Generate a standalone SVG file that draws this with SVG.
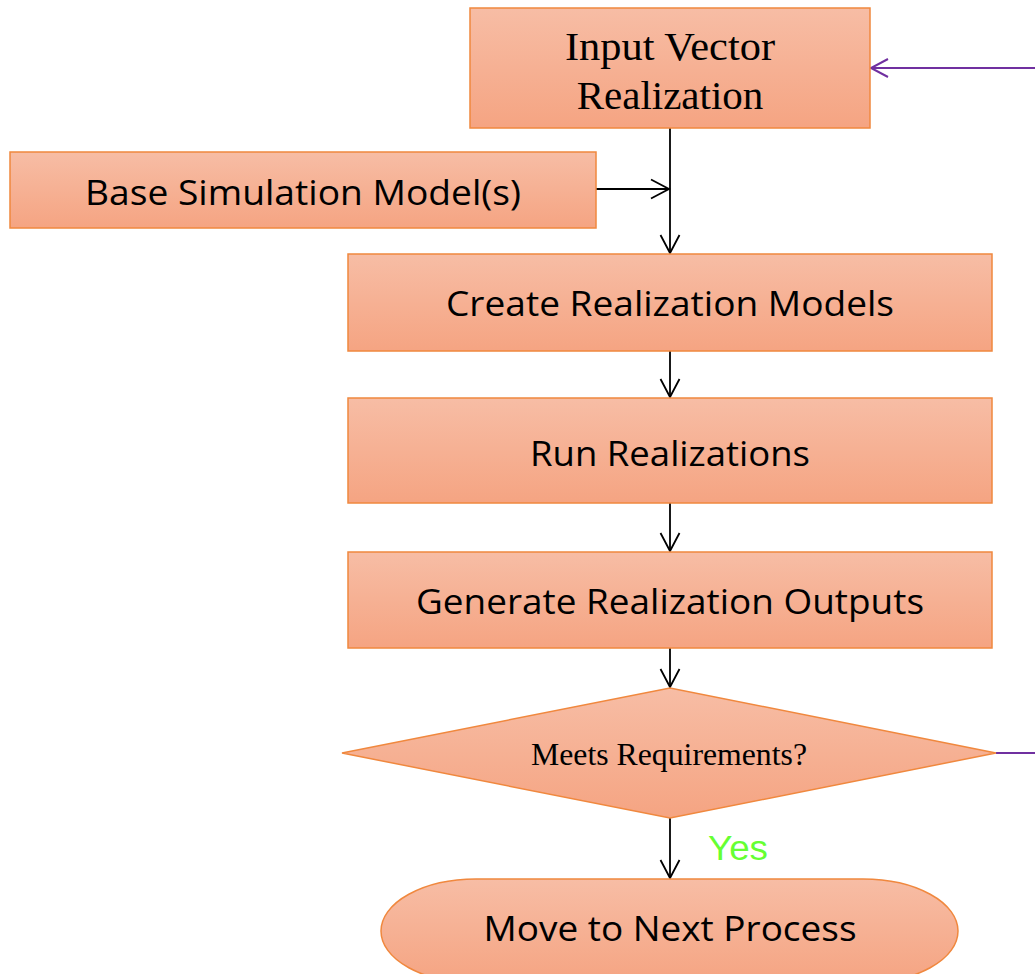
<svg xmlns="http://www.w3.org/2000/svg" width="1035" height="974" viewBox="0 0 1035 974">
  <defs>
    <linearGradient id="fillGrad" x1="0" y1="0" x2="0" y2="1">
      <stop offset="0" stop-color="#f7bda5"/>
      <stop offset="1" stop-color="#f5a482"/>
    </linearGradient>
    <marker id="arrowBlack" markerUnits="userSpaceOnUse" markerWidth="24" markerHeight="24" viewBox="-20 -12 24 24" refX="0" refY="0" orient="auto">
      <path d="M-18,-9.5 L0,0 L-18,9.5" fill="none" stroke="#000" stroke-width="1.8"/>
    </marker>
    <marker id="arrowPurple" markerUnits="userSpaceOnUse" markerWidth="24" markerHeight="24" viewBox="-20 -12 24 24" refX="0" refY="0" orient="auto">
      <path d="M-17,-9 L0,0 L-17,9" fill="none" stroke="#7030a0" stroke-width="2"/>
    </marker>
  </defs>
  <style>
    .box { fill: url(#fillGrad); stroke: #f0883e; stroke-width: 1.5; }
    .sans { font-family: "Open Sans", "Noto Sans", "Liberation Sans", sans-serif; font-size: 35px; fill: #000; text-anchor: middle; }
    .serif { font-family: "Liberation Serif", "Times New Roman", serif; fill: #000; text-anchor: middle; }
    .link { stroke: #000; stroke-width: 1.8; fill: none; }
    .loop { stroke: #7030a0; stroke-width: 2; fill: none; }
  </style>
  <rect width="1035" height="974" fill="#fff"/>

  <g id="connectors">
    <line class="link" x1="670" y1="128" x2="670" y2="253" marker-end="url(#arrowBlack)"/>
    <line class="link" x1="596" y1="189" x2="669" y2="189" marker-end="url(#arrowBlack)"/>
    <line class="link" x1="670" y1="351" x2="670" y2="397" marker-end="url(#arrowBlack)"/>
    <line class="link" x1="670" y1="503" x2="670" y2="551" marker-end="url(#arrowBlack)"/>
    <line class="link" x1="670" y1="648" x2="670" y2="687" marker-end="url(#arrowBlack)"/>
    <line class="link" x1="670" y1="818" x2="670" y2="878" marker-end="url(#arrowBlack)"/>
    <line class="loop" x1="996" y1="753" x2="1035" y2="753"/>
    <line class="loop" x1="1035" y1="68" x2="871" y2="68" marker-end="url(#arrowPurple)"/>
    <text x="738" y="860" font-family="'Liberation Sans', Arial, sans-serif" font-size="35" fill="#66ff33" text-anchor="middle" textLength="60" lengthAdjust="spacingAndGlyphs">Yes</text>
  </g>

  <g id="input-vector">
    <rect class="box" x="470" y="8" width="400" height="120"/>
    <text class="serif" x="670" y="60" font-size="41" textLength="210" lengthAdjust="spacingAndGlyphs">Input Vector</text>
    <text class="serif" x="670" y="109" font-size="41">Realization</text>
  </g>

  <g id="base-models">
    <rect class="box" x="10" y="152" width="586" height="76"/>
    <text class="sans" x="303" y="205" textLength="436" lengthAdjust="spacingAndGlyphs">Base Simulation Model(s)</text>
  </g>

  <g id="create-models">
    <rect class="box" x="348" y="254" width="644" height="97"/>
    <text class="sans" x="670" y="316" textLength="448" lengthAdjust="spacingAndGlyphs">Create Realization Models</text>
  </g>

  <g id="run-realizations">
    <rect class="box" x="348" y="398" width="644" height="105"/>
    <text class="sans" x="670" y="466" textLength="280" lengthAdjust="spacingAndGlyphs">Run Realizations</text>
  </g>

  <g id="generate-outputs">
    <rect class="box" x="348" y="552" width="644" height="96"/>
    <text class="sans" x="670" y="614" textLength="508" lengthAdjust="spacingAndGlyphs">Generate Realization Outputs</text>
  </g>

  <g id="meets-requirements">
    <polygon class="box" points="342,753 670,688 996,753 670,818"/>
    <text class="serif" x="669" y="765" font-size="31" textLength="276" lengthAdjust="spacingAndGlyphs">Meets Requirements?</text>
  </g>

  <g id="next-process">
    <rect class="box" x="381" y="879" width="577" height="104" rx="95" ry="52"/>
    <text class="sans" x="670" y="941" textLength="373" lengthAdjust="spacingAndGlyphs">Move to Next Process</text>
  </g>
</svg>
